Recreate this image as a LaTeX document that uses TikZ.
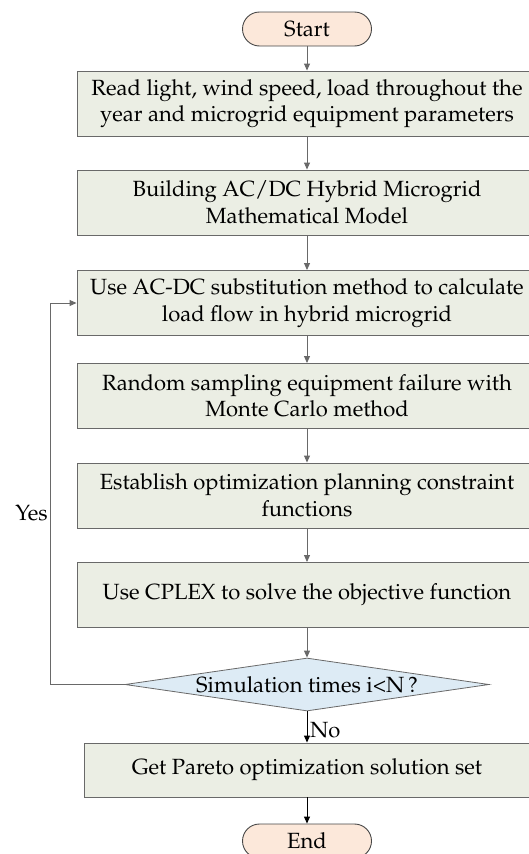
\documentclass[tikz,border=0pt]{standalone}
\usepackage[T1]{fontenc}
\usepackage{mathpazo}
\usepackage{tikz}
\usetikzlibrary{shapes.geometric,arrows.meta}
\usepackage{xcolor}

\definecolor{termfill}{RGB}{252,232,218}
\definecolor{termline}{RGB}{70,70,70}
\definecolor{boxfill}{RGB}{235,238,228}
\definecolor{diafill}{RGB}{221,235,245}
\definecolor{linegray}{RGB}{105,105,105}

\tikzset{
	term/.style={rectangle,rounded corners=17pt,draw=termline,fill=termfill,line width=0.9pt,
		minimum width=129pt,minimum height=34pt,inner sep=0pt},
	proc/.style={rectangle,draw=linegray,fill=boxfill,line width=0.9pt,
		minimum width=460pt,minimum height=65pt,inner sep=0pt,align=center},
	decide/.style={diamond,aspect=6.9,draw=linegray,fill=diafill,line width=0.8pt,inner sep=0pt,
		minimum width=364pt,minimum height=53pt},
	flow/.style={draw=linegray,line width=0.9pt,-{Triangle[length=7pt,width=6pt]}},
	flowdark/.style={draw=black,line width=0.9pt,-{Triangle[length=7pt,width=6pt]}},
}

\begin{document}
\begin{tikzpicture}[x=1pt,y=-1pt,font=\fontsize{22}{26.5}\selectfont]
			\useasboundingbox (0,0) rectangle (528,854);
			\begin{scope}
				\coordinate (c0) at (307,29);
				\coordinate (c1) at (307,103.5);
				\coordinate (c2) at (307,202.5);
				\coordinate (c3) at (307,303);
				\coordinate (c4) at (307,396);
				\coordinate (c5) at (307,495.5);
				\coordinate (c6) at (307,595);
				\coordinate (c7) at (307,684.5);
				\coordinate (c8) at (307,770);
				\coordinate (c9) at (307,841);
				\coordinate (loop) at (50,684.5);
				\node[term] (start) at (c0) {Start};
				\node[proc] (b1) at (c1) {Read light, wind speed, load throughout the\\year and microgrid equipment parameters};
				\node[proc] (b2) at (c2) {Building AC/DC Hybrid Microgrid\\Mathematical Model};
				\node[proc] (b3) at (c3) {Use AC-DC substitution method to calculate\\load flow in hybrid microgrid};
				\node[proc] (b4) at (c4) {Random sampling equipment failure with\\Monte Carlo method};
				\node[proc] (b5) at (c5) {Establish optimization planning constraint\\functions};
				\node[proc] (b6) at (c6) {Use CPLEX to solve the objective function};
				\node[decide] (dia) at (c7) {Simulation times i\textless N\,?};
				\node[proc,minimum width=446pt,minimum height=54pt] (b7) at (c8) {Get Pareto optimization solution set};
				\node[term] (end) at (c9) {End};
				\foreach \S/\E in {
					start/b1, b1/b2, b2/b3, b3/b4,
					b4/b5, b5/b6, b6/dia%
				} {
					\draw[flow] (\S) -- (\E);
				}
				\foreach \S/\E in {dia/b7, b7/end}
					\draw[flowdark] (\S) -- (\E);
				\draw[flow] (dia.west) -- (loop) |- (b3.west);
				\node[anchor=east,inner sep=1pt] (yes) at (49,513) {Yes};
				\node[anchor=west,inner sep=1pt] (no) at (309,730) {No};
			\end{scope}
		\end{tikzpicture}
\end{document}
